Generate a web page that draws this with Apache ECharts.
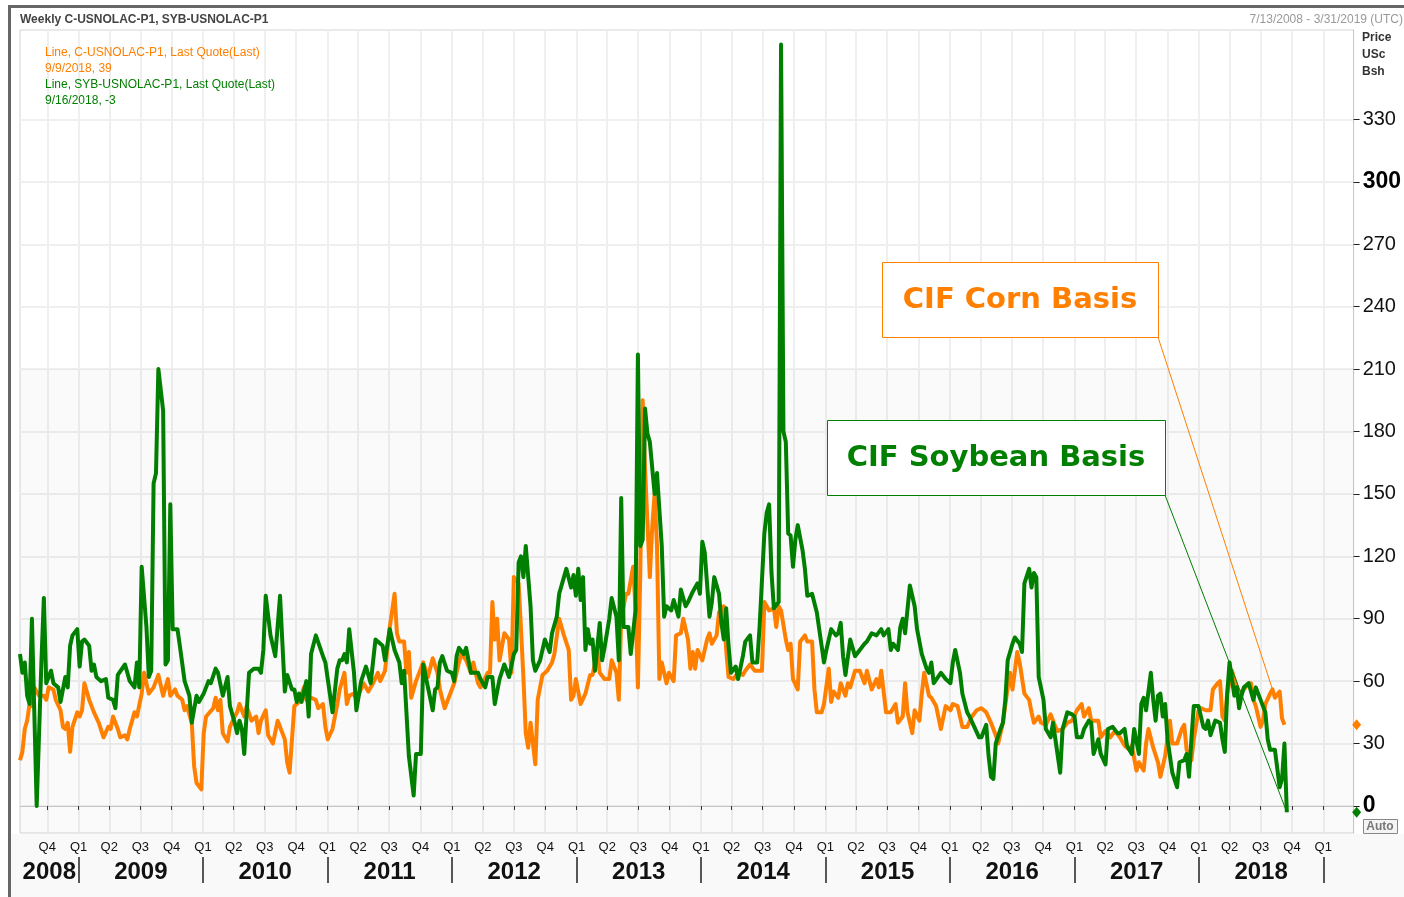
<!DOCTYPE html>
<html>
<head>
<meta charset="utf-8">
<title>CIF Corn / Soybean Basis</title>
<script src="https://cdn.jsdelivr.net/npm/echarts@6.0.0/dist/echarts.min.js"></script>
<style>
  html, body { margin: 0; padding: 0; background: #fff; }
  #main { width: 1404px; height: 897px; }
</style>
</head>
<body>
<div id="main"></div>
<script>
// weekly basis in US cents / bushel, week 0 = 7/13/2008
var cornWeeks = [0,1,2,3,4,5,6,8,10,11,12,14,15,17,18,19,20,21,22,24,25,26,27,29,31,33,35,37,38,39,41,42,44,45,46,48,49,51,52,54,56,58,60,62,63,65,66,68,69,70,
  72,73,74,76,77,78,81,82,83,84,85,87,88,90,91,92,94,95,97,99,100,101,103,104,106,108,111,112,113,115,117,119,120,122,124,125,127,128,129,131,133,134,136,137,138,140,141,
  144,146,148,150,151,153,155,157,158,159,161,162,163,164,166,169,171,173,175,176,178,180,182,184,185,187,189,190,192,193,196,197,198,199,200,201,203,205,206,207,209,210,211,
  212,213,214,216,217,219,221,223,224,226,228,230,231,232,233,235,237,239,240,242,243,245,247,248,250,251,252,254,255,257,258,259,260,261,262,264,265,266,267,268,269,271,272,274,275,277,278,280,281,282,283,
  284,286,288,289,290,292,293,295,296,297,299,301,303,304,306,308,310,311,312,314,316,317,318,319,321,322,323,324,326,327,329,330,332,333,334,336,337,339,340,341,343,344,346,347,348,350,352,354,
  355,357,359,360,361,363,365,367,368,370,371,372,374,375,377,378,379,381,382,384,386,388,390,391,393,395,397,399,401,403,405,407,409,410,412,414,415,416,418,419,421,423,424,425,
  427,428,430,432,434,435,437,439,441,443,445,446,448,449,452,453,455,457,459,461,463,465,466,468,469,471,472,473,475,477,478,480,482,483,485,487,488,489,491,492,494,495,497,
  499,500,502,503,504,505,506,508,509,510,511,513,515,516,517,518,520,521,522,524,525,526,528,529,530];
var cornValues = [22,26,37,41,49,48,57,53,53,51,57,56,51,46,38,37,40,26,38,45,43,46,59,51,45,40,33,38,37,43,37,33,34,32,37,45,43,54,64,54,57,63,53,61,53,56,53,51,46,48,
  40,19,11,8,35,43,47,52,46,51,35,31,38,43,45,49,43,48,41,43,35,41,46,34,30,41,32,21,16,48,50,57,51,52,51,47,49,38,32,37,49,56,64,49,53,54,51,
  59,55,59,64,60,65,86,102,83,79,79,64,74,52,60,69,62,71,64,56,47,53,59,69,73,70,64,69,59,57,64,64,98,80,90,70,83,80,64,110,107,85,62,
  35,28,40,20,51,63,65,69,73,90,82,75,51,53,61,49,54,63,63,74,64,61,61,70,64,51,90,102,102,115,95,57,112,195,162,110,134,150,125,61,69,59,64,60,82,83,90,80,66,74,66,
  75,70,80,83,78,82,93,96,75,62,61,64,63,65,68,65,65,65,98,94,95,86,96,94,80,75,78,61,56,79,82,79,79,56,45,45,49,66,50,55,52,59,53,59,57,65,65,59,
  65,56,61,57,65,45,45,49,40,43,59,45,35,46,41,54,64,53,52,48,37,48,46,49,48,38,38,43,46,47,45,40,34,30,40,57,64,56,74,69,54,51,45,40,
  43,40,39,44,38,36,37,40,41,46,49,43,47,41,41,33,36,33,36,33,29,27,29,17,21,17,30,37,28,21,14,24,41,30,30,37,39,27,22,32,46,47,46,
  46,56,59,60,43,41,54,65,61,57,54,56,59,59,51,48,38,41,49,54,56,52,55,42,39];

var soyWeeks = [0,1,2,3,4,5,7,9,10,11,13,14,16,17,19,20,21,22,24,25,26,27,29,30,31,32,34,36,37,39,40,41,44,46,48,49,50,51,53,54,55,56,57,58,60,61,62,63,64,66,67,
  69,71,72,74,75,77,79,80,82,83,85,87,88,90,91,92,93,94,96,98,100,101,102,103,105,107,109,111,112,114,115,116,117,118,120,121,122,124,127,128,131,133,134,135,136,137,138,140,141,
  143,145,147,149,152,153,155,157,159,160,161,163,165,166,168,169,171,173,174,175,176,177,179,181,182,183,184,186,187,189,192,193,195,196,198,199,201,203,205,207,208,209,210,211,212,
  214,215,216,218,220,222,223,225,226,228,229,231,232,233,234,235,236,237,238,239,240,241,243,244,245,247,248,250,251,252,253,255,256,258,259,260,261,262,263,264,266,267,269,270,271,273,274,276,277,279,280,282,284,
  285,286,287,289,290,291,293,294,295,296,297,298,300,301,303,304,306,307,309,310,312,313,314,315,316,318,319,320,321,322,323,324,325,326,328,329,330,332,334,336,337,338,340,342,343,344,345,346,348,350,352,354,
  355,357,359,361,362,364,365,366,368,369,370,371,373,375,376,378,380,381,382,383,386,388,390,391,392,394,395,397,398,400,402,403,405,406,407,408,409,411,412,413,414,416,417,419,420,421,423,424,425,426,
  427,429,430,432,433,434,436,437,439,441,442,443,445,446,448,449,450,452,453,455,456,458,460,461,463,464,466,467,469,470,471,472,474,475,476,477,478,479,480,481,483,485,486,488,489,490,491,492,494,496,
  497,498,499,501,503,504,505,506,507,509,510,511,512,513,515,517,518,519,521,522,523,524,526,528,529,530,531];
var soyValues = [73,64,69,53,49,90,0,70,100,59,65,59,57,50,62,57,77,82,85,67,79,80,77,65,68,62,60,61,52,51,47,63,68,60,57,69,57,115,86,62,65,155,160,210,190,68,70,145,85,85,77,
  60,53,40,53,50,54,60,59,66,64,53,62,48,40,35,41,37,25,64,66,66,64,75,101,82,72,101,55,63,56,56,50,54,50,60,43,73,82,72,69,45,66,70,70,73,69,85,64,46,
  60,67,59,80,77,70,85,75,69,59,65,24,5,25,25,68,57,46,56,57,69,72,65,64,60,72,76,73,76,64,64,61,57,62,62,49,61,68,62,73,75,117,120,110,125,
  96,70,65,70,80,74,83,91,102,110,114,105,111,101,114,99,110,75,85,78,80,65,88,70,76,90,100,91,70,148,86,86,73,94,217,125,128,191,179,175,150,160,125,91,96,94,99,91,104,96,98,103,107,
  102,127,122,91,98,110,102,88,80,95,77,64,67,61,72,79,82,69,69,86,131,141,145,112,95,98,366,180,175,131,130,115,128,135,123,114,101,102,93,77,69,75,85,82,83,88,72,63,80,72,75,78,
  79,83,82,85,82,85,75,78,75,86,90,83,106,96,85,73,66,64,69,59,64,61,59,69,75,64,54,45,43,38,33,33,39,24,14,13,30,37,40,51,70,78,81,78,74,107,114,105,112,110,
  62,51,37,33,40,32,16,37,45,44,43,33,33,37,41,40,25,32,25,20,37,38,35,35,37,29,25,37,25,49,52,46,64,51,41,53,54,43,49,32,16,9,21,22,25,14,32,48,48,38,
  37,41,34,41,40,32,26,54,69,53,57,47,53,57,59,51,57,54,48,45,32,27,27,9,13,30,-3];

var yTicks = [0, 30, 60, 90, 120, 150, 180, 210, 240, 270, 300, 330];
var quarterNames = ['Q1', 'Q2', 'Q3', 'Q4'];
var yearLabels = [2008, 2009, 2010, 2011, 2012, 2013, 2014, 2015, 2016, 2017, 2018];

var START = Date.UTC(2008, 6, 13);
var END = Date.UTC(2019, 2, 31);
var WEEK = 7 * 24 * 3600 * 1000;
var ORANGE = '#ff7f00';
var GREEN = '#007f00';
var FONT = '"Liberation Sans", Arial, sans-serif';
var BOLD_FONT = '"DejaVu Sans", Verdana, sans-serif';

function toPairs(weeks, values) {
  return weeks.map(function (w, i) { return [START + w * WEEK, values[i]]; });
}

// quarter ticks, year separators and year label centres (x is a timestamp)
var quarterStarts = [];
for (var y = 2008; y <= 2019; y++) {
  for (var q = 0; q < 4; q++) {
    var t = Date.UTC(y, q * 3, 1);
    if (t > START && t < END) quarterStarts.push(t);
  }
}
var yearStarts = [];
var yearMids = [];
yearLabels.forEach(function (yr) {
  var a = Math.max(Date.UTC(yr, 0, 1), START);
  var b = Date.UTC(yr + 1, 0, 1);
  yearStarts.push(b);
  yearMids.push((a + b) / 2);
});

function label(x, y, text, font, color, align) {
  return { type: 'text', z: 20, x: x, y: y, style: { text: text, font: font, fill: color, align: align || 'left', verticalAlign: 'middle' } };
}

var staticGraphic = [
  // bottom band + outer frame
  { type: 'rect', z: -1, shape: { x: 11, y: 834, width: 1393, height: 63 }, style: { fill: '#f9f9f9' } },
  { type: 'line', z: 20, shape: { x1: 9.5, y1: 6, x2: 9.5, y2: 897 }, style: { stroke: '#666', lineWidth: 3 } },
  { type: 'line', z: 20, shape: { x1: 8, y1: 6.5, x2: 1404, y2: 6.5 }, style: { stroke: '#666', lineWidth: 3 } },
  label(20, 20, 'Weekly C-USNOLAC-P1, SYB-USNOLAC-P1', 'bold 12px ' + FONT, '#444'),
  label(1403, 20, '7/13/2008 - 3/31/2019 (UTC)', '12px ' + FONT, '#999', 'right'),
  // legend lines
  label(45, 53, 'Line, C-USNOLAC-P1, Last Quote(Last)', '12px ' + FONT, ORANGE),
  label(45, 69, '9/9/2018, 39', '12px ' + FONT, ORANGE),
  label(45, 85, 'Line, SYB-USNOLAC-P1, Last Quote(Last)', '12px ' + FONT, GREEN),
  label(45, 101, '9/16/2018, -3', '12px ' + FONT, GREEN),
  // unit
  label(1362, 38, 'Price', 'bold 12px ' + FONT, '#333'),
  label(1362, 55, 'USc', 'bold 12px ' + FONT, '#333'),
  label(1362, 72, 'Bsh', 'bold 12px ' + FONT, '#333'),
  { type: 'rect', z: 19, shape: { x: 1363.5, y: 819.5, width: 34, height: 14 }, style: { fill: '#f4f4f4', stroke: '#888', lineWidth: 1 } },
  label(1380, 827, 'Auto', 'bold 12px ' + FONT, '#777', 'center'),
  // annotation boxes
  { type: 'rect', z: 10, shape: { x: 882.5, y: 262.5, width: 276, height: 75 }, style: { fill: '#fff', stroke: ORANGE, lineWidth: 1 } },
  label(1020, 300, 'CIF Corn Basis', 'bold 29px ' + BOLD_FONT, ORANGE, 'center'),
  { type: 'rect', z: 10, shape: { x: 827.5, y: 420.5, width: 338, height: 75 }, style: { fill: '#fff', stroke: GREEN, lineWidth: 1 } },
  label(996, 458, 'CIF Soybean Basis', 'bold 29px ' + BOLD_FONT, GREEN, 'center')
];

var chart = echarts.init(document.getElementById('main'));

var option = {
  animation: false,
  backgroundColor: '#fff',
  grid: { left: 20, right: 47, top: 30, bottom: 64, show: true, borderColor: '#d4d4d4', borderWidth: 1, backgroundColor: '#fff' },
  xAxis: [
    {
      type: 'value', min: START, max: END,
      axisLine: { show: true, lineStyle: { color: '#c8c8c8', width: 1 } },
      axisTick: { show: true, customValues: quarterStarts, length: 4, lineStyle: { color: '#333' } },
      axisLabel: {
        customValues: quarterStarts,
        formatter: function (v) { return quarterNames[Math.round(new Date(v).getUTCMonth() / 3)]; },
        color: '#111', fontSize: 13, fontFamily: FONT, margin: 8
      },
      splitLine: { show: true, lineStyle: { color: '#efefef', width: 2 } }
    },
    {
      type: 'value', min: START, max: END, position: 'bottom', offset: 24,
      axisLine: { show: false },
      axisTick: { show: true, customValues: yearStarts, length: 26, lineStyle: { color: '#222', width: 1.5 } },
      axisLabel: {
        customValues: yearMids,
        formatter: function (v) { return String(new Date(v).getUTCFullYear()); },
        color: '#111', fontSize: 24, fontWeight: 'bold', fontFamily: FONT, margin: 3
      },
      splitLine: { show: false }
    }
  ],
  yAxis: {
    type: 'value', position: 'right', min: -13, max: 373,
    axisLine: { show: true, lineStyle: { color: '#c8c8c8' } },
    axisTick: { show: true, customValues: yTicks, length: 6, lineStyle: { color: '#222' } },
    axisLabel: {
      customValues: yTicks, margin: 9, color: '#111', fontSize: 20, fontFamily: FONT,
      formatter: function (v) { return (v === 0 || v === 300) ? '{b|' + v + '}' : String(v); },
      rich: { b: { fontSize: 23, fontWeight: 'bold', color: '#000', fontFamily: FONT } }
    },
    splitLine: { show: true, lineStyle: { color: '#efefef', width: 2 } }
  },
  series: [
    {
      name: 'C-USNOLAC-P1', type: 'line', xAxisIndex: 0, yAxisIndex: 0,
      data: toPairs(cornWeeks, cornValues),
      showSymbol: false, z: 2,
      lineStyle: { color: ORANGE, width: 4, join: 'round' },
      itemStyle: { color: ORANGE },
      markArea: {
        silent: true,
        itemStyle: { color: 'rgba(0,0,0,0.018)' },
        data: [[{ yAxis: -13 }, { yAxis: 210 }]]
      },
      markPoint: {
        silent: true, symbol: 'diamond', symbolSize: [9, 11], symbolOffset: [3, 0],
        label: { show: false }, itemStyle: { color: ORANGE },
        data: [{ coord: [END, cornValues[cornValues.length - 1]] }]
      }
    },
    {
      name: 'SYB-USNOLAC-P1', type: 'line', xAxisIndex: 0, yAxisIndex: 0,
      data: toPairs(soyWeeks, soyValues),
      showSymbol: false, z: 3,
      lineStyle: { color: GREEN, width: 4, join: 'round' },
      itemStyle: { color: GREEN },
      markPoint: {
        silent: true, symbol: 'diamond', symbolSize: [9, 11], symbolOffset: [3, 0],
        label: { show: false }, itemStyle: { color: GREEN },
        data: [{ coord: [END, soyValues[soyValues.length - 1]] }]
      }
    }
  ],
  graphic: staticGraphic
};
chart.setOption(option);

// leader lines from the boxes to the series
var ci = cornWeeks.indexOf(525);
var cornTip = chart.convertToPixel({ xAxisIndex: 0, yAxisIndex: 0 }, [START + cornWeeks[ci] * WEEK, cornValues[ci]]);
var si = soyWeeks.length - 1;
var soyTip = chart.convertToPixel({ xAxisIndex: 0, yAxisIndex: 0 }, [START + soyWeeks[si] * WEEK, soyValues[si]]);
chart.setOption({
  graphic: staticGraphic.concat([
    { type: 'line', z: 9, shape: { x1: 1158, y1: 337, x2: cornTip[0], y2: cornTip[1] }, style: { stroke: ORANGE, lineWidth: 1 } },
    { type: 'line', z: 9, shape: { x1: 1165, y1: 495, x2: soyTip[0], y2: soyTip[1] }, style: { stroke: GREEN, lineWidth: 1 } }
  ])
});
</script>
</body>
</html>
